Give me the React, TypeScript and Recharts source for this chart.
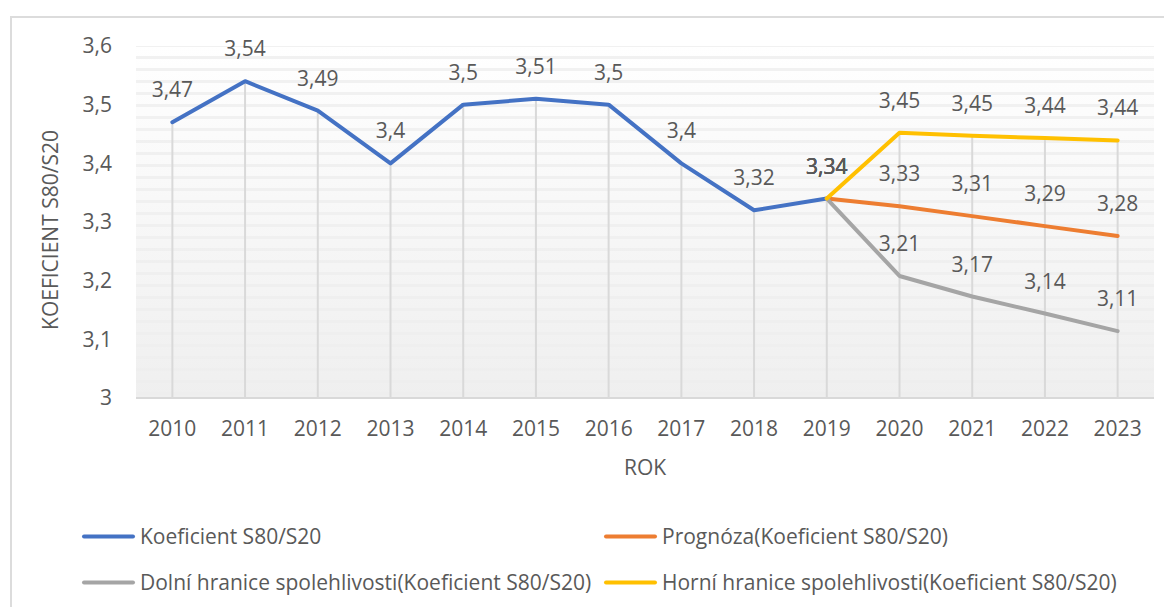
import React from 'react';
import { LineChart, Line, XAxis, YAxis, CartesianGrid, ReferenceLine, LabelList } from 'recharts';

const years = ['2010', '2011', '2012', '2013', '2014', '2015', '2016', '2017', '2018', '2019', '2020', '2021', '2022', '2023'];
const koeficient = [3.47, 3.54, 3.49, 3.4, 3.5, 3.51, 3.5, 3.4, 3.32, 3.34, null, null, null, null];
const prognoza = [null, null, null, null, null, null, null, null, null, 3.34, 3.327, 3.31, 3.293, 3.276];
const dolni = [null, null, null, null, null, null, null, null, null, 3.34, 3.208, 3.173, 3.144, 3.114];
const horni = [null, null, null, null, null, null, null, null, null, 3.34, 3.452, 3.447, 3.443, 3.439];
const yTicks = [3, 3.1, 3.2, 3.3, 3.4, 3.5, 3.6];

const seriesNames = [
  'Koeficient S80/S20',
  'Prognóza(Koeficient S80/S20)',
  'Dolní hranice spolehlivosti(Koeficient S80/S20)',
  'Horní hranice spolehlivosti(Koeficient S80/S20)',
];
const colors = ['#4472C4', '#ED7D31', '#A5A5A5', '#FFC000'];

const data = years.map((y, i) => ({
  year: y,
  k: koeficient[i],
  p: prognoza[i],
  d: dolni[i],
  h: horni[i],
}));

const dropTops = years.map((y, i) => {
  const vals = [koeficient[i], prognoza[i], dolni[i], horni[i]].filter((v) => v != null) as number[];
  return { year: y, top: Math.max(...vals) };
});

const FONT = '"Open Sans", sans-serif';
const TXT = '#595959';

const fmt = (v: any) => {
  if (v == null || v === '') return '';
  return Number(Number(v).toFixed(2)).toString().replace('.', ',');
};

const keys = ['k', 'p', 'd', 'h'];

export default function App() {
  return (
    <div style={{ position: 'relative', width: 1164, height: 599, overflow: 'hidden', fontFamily: FONT, background: '#fff' }}>
      <div style={{ position: 'absolute', left: 2, top: 8, width: 1200, height: 700, borderLeft: '2px solid #DCDCDC', borderTop: '2px solid #DCDCDC', boxSizing: 'border-box' }} />
      <div style={{ position: 'absolute', left: 0, top: 0 }}>
        <LineChart width={1164} height={599} data={data} margin={{ top: 38, right: 18, bottom: 0, left: 0 }}>
          <defs>
            <linearGradient id="bgGrad" x1="0" y1="0" x2="0" y2="1">
              <stop offset="0%" stopColor="#FFFFFF" />
              <stop offset="100%" stopColor="#EFEFEF" />
            </linearGradient>
            <pattern id="stripes" patternUnits="userSpaceOnUse" width="10" height="12">
              <rect x="0" y="0" width="10" height="3" fill="#EEEEEE" />
            </pattern>
          </defs>
          <CartesianGrid horizontal={false} vertical={false} fill="url(#bgGrad)" stroke="none" />
          <CartesianGrid horizontal={false} vertical={false} fill="url(#stripes)" fillOpacity={0.8} stroke="none" />
          <XAxis
            dataKey="year"
            height={209}
            padding={{ left: 36.36, right: 36.36 }}
            axisLine={{ stroke: '#D9D9D9', strokeWidth: 2 }}
            tickLine={false}
            tickSize={0}
            tickMargin={23}
            tick={{ fill: TXT, fontSize: 21, fontFamily: FONT }}
            interval={0}
          />
          <YAxis
            width={128}
            domain={[3, 3.6]}
            ticks={yTicks}
            axisLine={false}
            tickLine={false}
            tickSize={0}
            tickMargin={24}
            tick={{ fill: TXT, fontSize: 21, fontFamily: FONT }}
            tickFormatter={fmt}
            interval={0}
          />
          {dropTops.map((d) => (
            <ReferenceLine
              key={d.year}
              segment={[{ x: d.year, y: 3 }, { x: d.year, y: d.top }]}
              stroke="#D9D9D9"
              strokeWidth={2}
            />
          ))}
          {keys.map((k, i) => (
            <Line
              key={k}
              dataKey={k}
              name={seriesNames[i]}
              stroke={colors[i]}
              strokeWidth={4}
              dot={false}
              activeDot={false}
              connectNulls={false}
              isAnimationActive={false}
              strokeLinecap="round"
              strokeLinejoin="round"
            >
              <LabelList dataKey={k} position="top" offset={25} formatter={fmt} fill={TXT} fontSize={21} fontFamily={FONT} />
            </Line>
          ))}
        </LineChart>
      </div>
      <div style={{ position: 'absolute', left: 41.5, top: 221.5, transform: 'translate(-50%, -50%) rotate(-90deg)', whiteSpace: 'nowrap', fontSize: 21, color: TXT, lineHeight: 1 }}>
        KOEFICIENT S80/S20
      </div>
      <div style={{ position: 'absolute', left: 637, top: 459, transform: 'translate(-50%, -50%)', whiteSpace: 'nowrap', fontSize: 21, color: TXT, lineHeight: 1 }}>
        ROK
      </div>
      {seriesNames.map((n, i) => {
        const col = i % 2;
        const row = Math.floor(i / 2);
        const lineX = col === 0 ? 74 : 596;
        const cy = row === 0 ? 528 : 574;
        return (
          <div key={n} style={{ position: 'absolute', left: lineX, top: cy, transform: 'translateY(-50%)', display: 'flex', alignItems: 'center', whiteSpace: 'nowrap' }}>
            <div style={{ width: 53, height: 4, background: colors[i], borderRadius: 2 }} />
            <span style={{ marginLeft: 5, fontSize: 21, color: TXT, lineHeight: 1 }}>{n}</span>
          </div>
        );
      })}
    </div>
  );
}
